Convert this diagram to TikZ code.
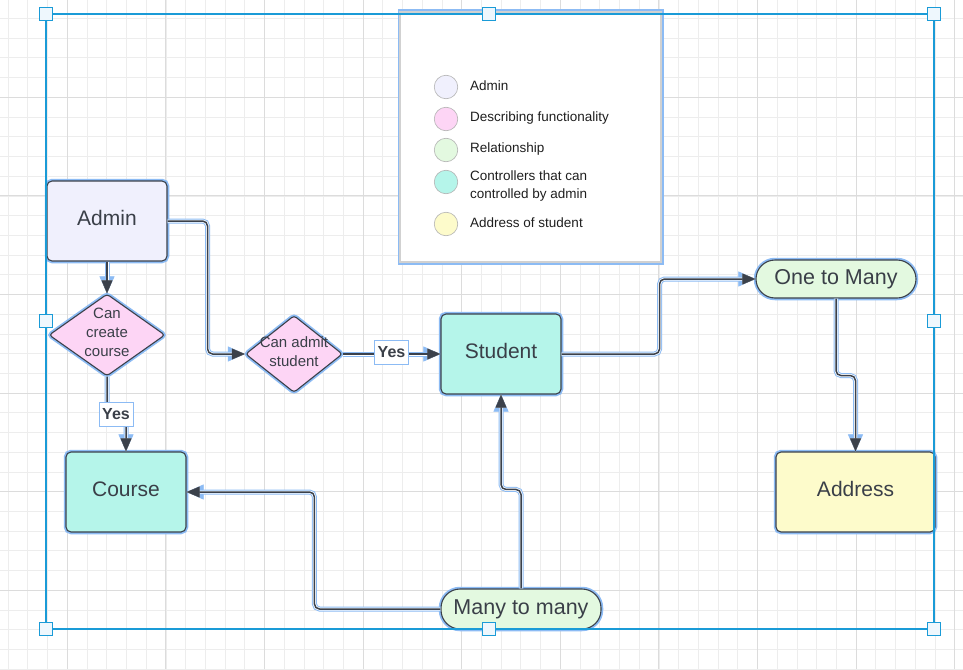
\documentclass[tikz,border=0pt]{standalone}
\usepackage{fontspec}
\setmainfont{Liberation Sans}
\usetikzlibrary{arrows.meta,shapes.geometric}
\definecolor{selblue}{HTML}{1A9BD7}
\definecolor{glow}{HTML}{8CBBF4}
\definecolor{edge}{HTML}{3B414B}
\definecolor{txt}{HTML}{3A3F48}
\definecolor{adminfill}{HTML}{F0F0FD}
\definecolor{funcfill}{HTML}{FDD5F5}
\definecolor{relfill}{HTML}{E3F9E0}
\definecolor{ctrlfill}{HTML}{B5F5EA}
\definecolor{addrfill}{HTML}{FDFBCB}
\definecolor{gridminor}{HTML}{EDEDED}
\definecolor{gridmajor}{HTML}{DCDCDC}
\definecolor{handlefill}{HTML}{EEF7FD}
\begin{document}
\begin{tikzpicture}[x=1pt,y=-1pt,
  box/.style={rectangle, rounded corners=5pt, draw=edge, line width=1.1pt, text=txt,
    font=\fontsize{21}{24}\selectfont, text height=15pt, text depth=6pt, inner sep=0pt,
    preaction={draw=glow, line width=4.5pt}},
  pill/.style={box, rounded corners=19pt, text depth=5pt},
  dia/.style={diamond, rounded corners=3pt, draw=edge, line width=1.1pt, fill=funcfill,
    inner sep=0pt, preaction={draw=glow, line width=4.5pt}},
  diatext/.style={text=txt, font=\fontsize{15}{19}\selectfont, align=center, inner sep=0pt},
  conn/.style={draw=edge, line width=1.5pt, rounded corners=5pt,
    -{Triangle[length=13pt,width=11pt,line width=0.4pt]},
    preaction={draw=glow, line width=5pt, -{Triangle[length=17pt,width=15pt,line width=0.4pt]}},
    preaction={draw=white, line width=3pt, -{Triangle[length=13pt,width=11pt,line width=0.4pt]}}},
  yesbox/.style={rectangle, fill=white, draw=glow, line width=0.8pt, text=txt,
    font=\bfseries\fontsize{16}{18}\selectfont, inner sep=0pt, minimum width=34, minimum height=24},
  legbox/.style={rectangle, fill=white, draw=black!18, line width=1.2pt,
    preaction={draw=glow, line width=5pt}, minimum width=261, minimum height=250, inner sep=0pt},
  legc/.style={circle, draw=black!30, line width=0.6pt, minimum size=23.5, inner sep=0pt},
  legt/.style={anchor=west, text=black!88, font=\fontsize{13.5}{18}\selectfont, align=left, inner sep=0pt},
  handle/.style={rectangle, draw=selblue, fill=handlefill, line width=1.2pt, minimum size=13, inner sep=0pt}
]
\fill[white] (0,0) rectangle (963,669);
\useasboundingbox (0,0) rectangle (963,669);
% grid
\foreach \k in {0,...,48} \draw[gridminor, line width=0.8pt] ({8.14+19.72*\k},0) -- ++(0,669);
\foreach \k in {0,...,33} \draw[gridminor, line width=0.8pt] (0,{18.42+19.72*\k}) -- ++(963,0);
\foreach \k in {0,...,9} \draw[gridmajor, line width=1pt] ({67.3+98.6*\k},0) -- ++(0,669);
\foreach \k in {0,...,5} \draw[gridmajor, line width=1pt] (0,{97.3+98.6*\k}) -- ++(963,0);

% legend
\node[legbox] (lg) at (530.5,137) {};
\node[legc, fill=adminfill] (c1) at (446,87) {};
\node[legc, fill=funcfill] (c2) at (446,119) {};
\node[legc, fill=relfill] (c3) at (446,150) {};
\node[legc, fill=ctrlfill] (c4) at (446,182) {};
\node[legc, fill=addrfill] (c5) at (446,224) {};
\node[legt] (t1) at (470,86) {Admin};
\node[legt] (t2) at (470,118) {Describing functionality};
\node[legt] (t3) at (470,149) {Relationship};
\node[legt] (t4) at (470,186) {Controllers that can\\controlled by admin};
\node[legt] (t5) at (470,223) {Address of student};

% nodes
\node[box, fill=adminfill, minimum width=120, minimum height=80] (admin) at (107,221) {Admin};
\node[dia, minimum width=116, minimum height=82] (cc) at (107,335) {};
\node[diatext] (cct) at (107,332) {Can\\create\\course};
\node[dia, minimum width=97, minimum height=77] (ca) at (294,354) {};
\node[diatext] (cat) at (294,352) {Can admit\\student};
\node[box, fill=ctrlfill, minimum width=120, minimum height=80] (student) at (501,354) {Student};
\node[box, fill=ctrlfill, minimum width=120, minimum height=80] (course) at (126,492) {Course};
\node[box, fill=addrfill, minimum width=159, minimum height=80] (address) at (855.5,492) {Address};
\node[pill, fill=relfill, minimum width=160, minimum height=38, font=\fontsize{21.5}{24}\selectfont] (otm) at (836,279) {One to Many};
\node[pill, fill=relfill, minimum width=160, minimum height=40, font=\fontsize{21.5}{24}\selectfont] (mtm) at (521,609) {Many to many};

% connectors
\draw[conn] (admin.south) -- (cc.north);
\draw[conn] (cc.south) -- (107,414) -| (course.north);
\node[yesbox] (yes1) at (116,414) {Yes};
\draw[conn] (admin.east) -- ++(40,0) |- (ca.west);
\draw[conn] (ca.east) -- (student.west);
\node[yesbox] (yes2) at (391.5,352.5) {Yes};
\draw[conn] (student.east) -- ++(98,0) |- (otm.west);
\draw[conn] (otm.south) -- ++(0,77) -| (address.north);
\draw[conn] (mtm.north) -- ++(0,-99) -| (student.south);
\draw[conn] (mtm.west) -- ++(-126,0) |- (course.east);

% selection frame
\draw[selblue, line width=1.6pt] (46,14) rectangle (934,629);
\node[handle] (h1) at (46,14) {};
\node[handle] (h2) at (489,14) {};
\node[handle] (h3) at (934,14) {};
\node[handle] (h4) at (46,321) {};
\node[handle] (h5) at (934,321) {};
\node[handle] (h6) at (46,629) {};
\node[handle] (h7) at (489,629) {};
\node[handle] (h8) at (934,629) {};
\end{tikzpicture}
\end{document}
